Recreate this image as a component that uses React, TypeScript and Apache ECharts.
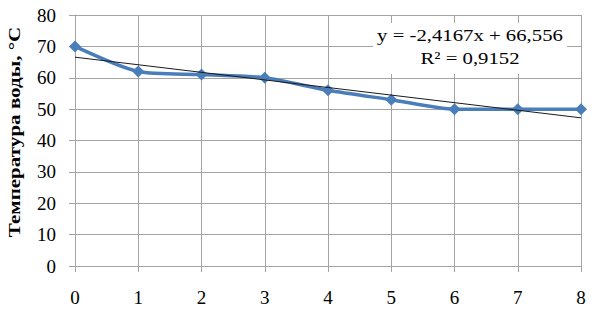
import React, { useEffect, useRef } from "react";
import * as echarts from "echarts";

const xValues = [0, 1, 2, 3, 4, 5, 6, 7, 8];
const temperatures = [70, 62, 61, 60, 56, 53, 50, 50, 50];
const trendSlope = -2.4167;
const trendIntercept = 66.556;
const equationText = "y = -2,4167x + 66,556";
const rSquaredText = "R² = 0,9152";
const yAxisTitle = "Температура воды, °С";

const FONT = "'Liberation Serif', 'Times New Roman', serif";
const GRID_COLOR = "#a3a3a3";

export default function App() {
  const ref = useRef<HTMLDivElement>(null);
  useEffect(() => {
    if (!ref.current) return;
    const chart = echarts.init(ref.current, undefined, { renderer: "svg" });
    const seriesData = xValues.map((x, i) => [x, temperatures[i]]);
    const trendData = [xValues[0], xValues[xValues.length - 1]].map((x) => [
      x,
      trendSlope * x + trendIntercept,
    ]);
    chart.setOption({
      animation: false,
      backgroundColor: "#ffffff",
      grid: { left: 75, right: 15, top: 15, bottom: 44 },
      xAxis: {
        type: "value",
        min: 0,
        max: 8,
        interval: 1,
        axisLine: { show: true, lineStyle: { color: GRID_COLOR, width: 1 } },
        axisTick: { show: true, length: 6, lineStyle: { color: GRID_COLOR } },
        splitLine: { show: true, lineStyle: { color: GRID_COLOR, width: 1 } },
        axisLabel: {
          color: "#000",
          fontFamily: FONT,
          fontSize: 19,
          margin: 22,
        },
      },
      yAxis: {
        type: "value",
        min: 0,
        max: 80,
        interval: 10,
        axisLine: { show: true, lineStyle: { color: GRID_COLOR, width: 1 } },
        axisTick: { show: true, length: 6, lineStyle: { color: GRID_COLOR } },
        splitLine: { show: true, lineStyle: { color: GRID_COLOR, width: 1 } },
        axisLabel: {
          color: "#000",
          fontFamily: FONT,
          fontSize: 19,
          margin: 19,
        },
      },
      series: [
        {
          type: "line",
          data: seriesData,
          smooth: 0.25,
          symbol: "diamond",
          symbolSize: 12,
          lineStyle: { color: "#4a7ebb", width: 3.5 },
          itemStyle: { color: "#4a7ebb" },
          z: 2,
        },
        {
          type: "line",
          data: trendData,
          symbol: "none",
          lineStyle: { color: "#1a1a1a", width: 1 },
          z: 3,
        },
      ],
      graphic: [
        {
          type: "rect",
          shape: { x: 373, y: 23, width: 194, height: 51 },
          style: { fill: "#ffffff" },
          z: 9,
        },
        {
          type: "text",
          x: 470,
          y: 35,
          scaleX: 1.22,
          z: 10,
          style: {
            text: equationText,
            fontFamily: FONT,
            fontSize: 17,
            fill: "#000",
            align: "center",
            verticalAlign: "middle",
          },
        },
        {
          type: "text",
          x: 470,
          y: 58,
          scaleX: 1.22,
          z: 10,
          style: {
            text: rSquaredText,
            fontFamily: FONT,
            fontSize: 17,
            fill: "#000",
            align: "center",
            verticalAlign: "middle",
          },
        },
        {
          type: "text",
          x: 14,
          y: 132,
          rotation: Math.PI / 2,
          scaleX: 1.24,
          z: 10,
          style: {
            text: yAxisTitle,
            fontFamily: FONT,
            fontSize: 17,
            fontWeight: "bold",
            fill: "#000",
            align: "center",
            verticalAlign: "middle",
          },
        },
      ],
    });
    return () => chart.dispose();
  }, []);
  return (
    <div
      ref={ref}
      style={{ position: "absolute", left: 0, top: 0, width: 596, height: 310 }}
    />
  );
}
